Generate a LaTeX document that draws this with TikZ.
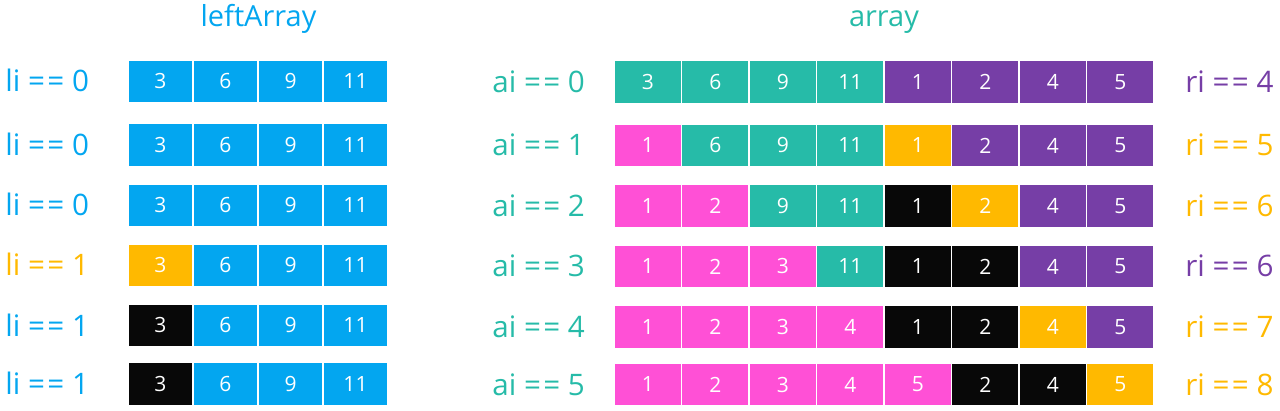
\documentclass[tikz,border=0pt]{standalone}
\usepackage{fontspec}
\setmainfont{Open Sans}
\usetikzlibrary{positioning}
\definecolor{sky}{RGB}{3,166,240}
\definecolor{mint}{RGB}{38,187,168}
\definecolor{plum}{RGB}{118,62,166}
\definecolor{rose}{RGB}{255,80,214}
\definecolor{amber}{RGB}{255,185,0}
\definecolor{ink}{RGB}{8,8,8}
\newcommand{\eqeq}{=\kern1.2pt=}
\tikzset{
  cell/.style={draw=white,line width=0.6pt,text=white,inner sep=0pt,
    font=\fontsize{10.5}{12}\selectfont,minimum height=21.5pt},
  lcell/.style={cell,minimum width=32.5pt},
  rcell/.style={cell,minimum width=33.75pt},
  idx/.style={font=\fontsize{14.8}{17}\selectfont,anchor=base west,inner sep=0pt},
  ttl/.style={font=\fontsize{14.5}{17}\selectfont,anchor=base,inner sep=0pt},
}
\begin{document}
\begin{tikzpicture}[x=0.5pt,y=-0.5pt]
  \useasboundingbox (0,0) rectangle (1280,411);
  % titles
  \node[ttl,text=sky] (tleft) at (258.5,27) {leftArray};
  \node[ttl,text=mint] (tarr) at (884,27) {array};
  % leftArray
  \foreach \r/\y/\f/\lc/\lv in {1/81.5/sky/sky/0, 2/145/sky/sky/0,
      3/205.5/sky/sky/0, 4/265.5/amber/amber/1, 5/325.5/ink/sky/1,
      6/384/ink/sky/1}{
    \node[idx,text=\lc] (li\r) at (5,\y+10.5) {li \eqeq{} \lv};
    \node[lcell,fill=\f] (l\r-1) at (160.5,\y) {3};
    \foreach \v [count=\c from 2] in {6,9,11}
      \node[lcell,fill=sky] (l\r-\c) at (95.5+65*\c,\y) {\v};
  }
  % array
  \foreach \r/\y/\av/\rc/\rv/\row in {
      1/82/0/plum/4/{mint/3,mint/6,mint/9,mint/11,plum/1,plum/2,plum/4,plum/5},
      2/145.5/1/amber/5/{rose/1,mint/6,mint/9,mint/11,amber/1,plum/2,plum/4,plum/5},
      3/206/2/amber/6/{rose/1,rose/2,mint/9,mint/11,ink/1,amber/2,plum/4,plum/5},
      4/266.5/3/plum/6/{rose/1,rose/2,rose/3,mint/11,ink/1,ink/2,plum/4,plum/5},
      5/327/4/amber/7/{rose/1,rose/2,rose/3,rose/4,ink/1,ink/2,amber/4,plum/5},
      6/384.5/5/amber/8/{rose/1,rose/2,rose/3,rose/4,rose/5,ink/2,ink/4,amber/5}}{
    \node[idx,text=mint] (ai\r) at (492,\y+10.5) {ai \eqeq{} \av};
    \node[idx,text=\rc] (ri\r) at (1185,\y+10.5) {ri \eqeq{} \rv};
    \foreach \f/\v [count=\c] in \row
      \node[rcell,fill=\f] (a\r-\c) at (580.25+67.5*\c,\y) {\v};
  }
\end{tikzpicture}
\end{document}
